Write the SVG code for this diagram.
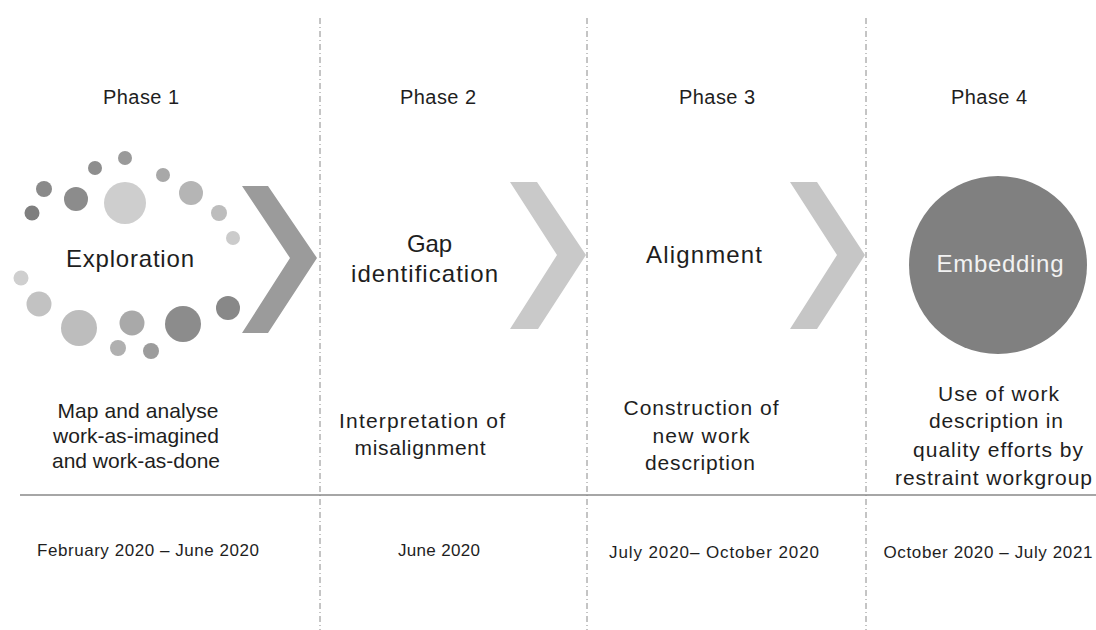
<svg xmlns="http://www.w3.org/2000/svg" width="1096" height="630" viewBox="0 0 1096 630">
<style>
text{font-family:"Liberation Sans",Arial,sans-serif;fill:#1e1e1e;text-anchor:middle}
.ph{font-size:20px}
.big{font-size:24px}
.desc{font-size:21px}
.date{font-size:17px}
.div{stroke:#8a8a8a;stroke-width:1;stroke-dasharray:6,3,1,3;fill:none}
</style>
<rect width="1096" height="630" fill="#fff"/>
<g id="dividers">
<line class="div" x1="320" y1="18" x2="320" y2="630"/>
<line class="div" x1="587" y1="18" x2="587" y2="630"/>
<line class="div" x1="866" y1="18" x2="866" y2="630"/>
<line x1="20" y1="495" x2="1096" y2="495" stroke="#888" stroke-width="1.5"/>
</g>
<g id="phase1">
<text class="ph" x="141" y="104" textLength="76">Phase 1</text>
<g id="dots">
<circle cx="125" cy="158" r="7" fill="#9a9a9a"/>
<circle cx="95" cy="168" r="7" fill="#8e8e8e"/>
<circle cx="163" cy="175" r="7" fill="#a8a8a8"/>
<circle cx="44" cy="189" r="8" fill="#8a8a8a"/>
<circle cx="76" cy="199" r="12" fill="#8c8c8c"/>
<circle cx="125" cy="203" r="21" fill="#cecece"/>
<circle cx="191" cy="193" r="12" fill="#b5b5b5"/>
<circle cx="32" cy="213" r="7.5" fill="#7f7f7f"/>
<circle cx="219" cy="213" r="8" fill="#bdbdbd"/>
<circle cx="233" cy="238" r="7" fill="#cbcbcb"/>
<circle cx="21" cy="278" r="7.5" fill="#cfcfcf"/>
<circle cx="39" cy="304" r="12.5" fill="#c2c2c2"/>
<circle cx="79" cy="328" r="18" fill="#bdbdbd"/>
<circle cx="132" cy="323" r="12.5" fill="#a9a9a9"/>
<circle cx="183" cy="324" r="18" fill="#8c8c8c"/>
<circle cx="228" cy="308" r="12" fill="#888"/>
<circle cx="118" cy="348" r="8" fill="#b0b0b0"/>
<circle cx="151" cy="351" r="8" fill="#9c9c9c"/>
</g>
<text class="big" x="130" y="267" textLength="128">Exploration</text>
<polygon points="242,186 268,186 317,258 268,333 242,333 290,258" fill="#9b9b9b"/>
<text class="desc" x="138" y="418" textLength="161">Map and analyse</text>
<text class="desc" x="136" y="443" textLength="166">work-as-imagined</text>
<text class="desc" x="136" y="468" textLength="168">and work-as-done</text>
<text class="date" x="148" y="556" textLength="222">February 2020 – June 2020</text>
</g>
<g id="phase2">
<text class="ph" x="438" y="104" textLength="76">Phase 2</text>
<text class="big" x="429.5" y="252" textLength="45">Gap</text>
<text class="big" x="424.5" y="282" textLength="147">identification</text>
<polygon points="510,182 537,182 586,255 538,329 510,329 557,255" fill="#c9c9c9"/>
<text class="desc" x="422" y="428" textLength="166">Interpretation of</text>
<text class="desc" x="420" y="455" textLength="131">misalignment</text>
<text class="date" x="439" y="556" textLength="82">June 2020</text>
</g>
<g id="phase3">
<text class="ph" x="717" y="104" textLength="76">Phase 3</text>
<text class="big" x="704" y="263" textLength="116">Alignment</text>
<polygon points="790,182 817,182 865,255 817,329 790,329 837,255" fill="#c6c6c6"/>
<text class="desc" x="701" y="415" textLength="155">Construction of</text>
<text class="desc" x="701" y="443" textLength="97">new work</text>
<text class="desc" x="700" y="470" textLength="110">description</text>
<text class="date" x="714" y="558" textLength="210">July 2020– October 2020</text>
</g>
<g id="phase4">
<text class="ph" x="989" y="104" textLength="76">Phase 4</text>
<circle cx="998" cy="265" r="89" fill="#808080"/>
<text class="big" x="1000" y="272" textLength="127" style="fill:#f2f2f2">Embedding</text>
<text class="desc" x="998.5" y="401" textLength="121">Use of work</text>
<text class="desc" x="996" y="428" textLength="134">description in</text>
<text class="desc" x="998" y="457" textLength="170">quality efforts by</text>
<text class="desc" x="993.5" y="485" textLength="197">restraint workgroup</text>
<text class="date" x="988" y="558" textLength="209">October 2020 – July 2021</text>
</g>
</svg>
